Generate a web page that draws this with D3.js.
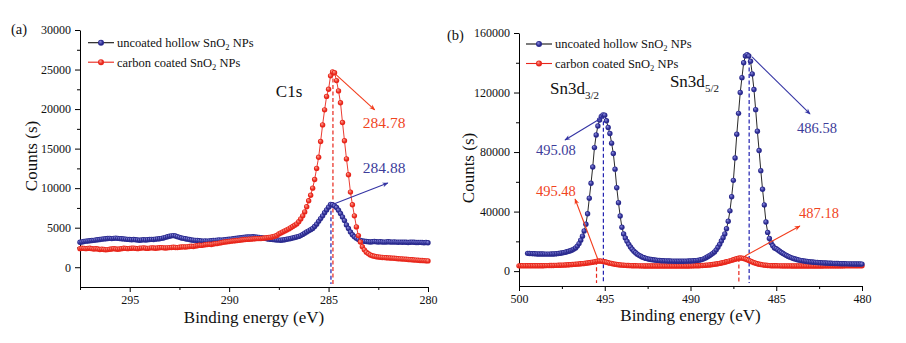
<!DOCTYPE html>
<html>
<head>
<meta charset="utf-8">
<style>
    body { margin: 0; background: #fff; }
    svg { font-family: 'Liberation Serif', 'Times New Roman', serif; }
    .axis .domain { stroke: #000; }
    .axis .tick line { stroke: #000; }
    .axis .tick text { font-size: 12px; fill: #111; font-family: 'Liberation Serif', serif; }
    .title { font-size: 17px; fill: #111; }
    .legend { font-size: 12.5px; fill: #111; }
</style>
</head>
<body>
<svg width="906" height="343"></svg>

<script src="https://d3js.org/d3.v7.min.js"></script>
<script>
// ---------- data: C1s (panel a), energy grid 297.5 -> 280.0 eV, 0.1 eV steps ----------
const c1sStart = 297.5;
const eStep = 0.1;

const c1sUncoated = [
    3150,3200,3250,3300,3320,3350,3380,3400,3450,3480,
    3500,3550,3580,3600,3630,3650,3620,3650,3680,3650,
    3620,3600,3580,3550,3520,3500,3480,3500,3470,3450,
    3420,3450,3480,3450,3480,3500,3520,3500,3550,3580,
    3600,3650,3700,3780,3850,3920,3970,4000,3950,3870,
    3780,3700,3650,3600,3550,3500,3450,3420,3400,3380,
    3350,3320,3300,3330,3300,3330,3350,3380,3400,3420,
    3450,3430,3450,3480,3500,3530,3560,3600,3630,3660,
    3700,3730,3760,3800,3820,3840,3830,3850,3820,3800,
    3780,3750,3700,3650,3600,3550,3520,3500,3480,3450,
    3430,3420,3450,3480,3530,3580,3630,3700,3760,3830,
    3900,4000,4150,4300,4450,4600,4750,4900,5150,5450,
    5800,6150,6500,6900,7250,7600,7950,7900,7750,7550,
    7200,6800,6350,5900,5350,4900,4450,4100,3850,3650,
    3500,3400,3330,3280,3250,3230,3200,3220,3250,3230,
    3200,3220,3200,3180,3200,3220,3200,3180,3200,3180,
    3160,3180,3150,3170,3150,3130,3150,3170,3150,3130,
    3120,3140,3120,3100,3120,3100
];

const c1sCoated = [
    2350,2400,2380,2350,2380,2400,2350,2300,2330,2300,
    2250,2280,2250,2200,2230,2270,2300,2350,2300,2280,
    2300,2350,2400,2380,2350,2380,2400,2420,2380,2350,
    2400,2420,2450,2400,2380,2420,2450,2430,2400,2430,
    2460,2480,2450,2430,2450,2480,2500,2520,2500,2480,
    2520,2550,2570,2550,2580,2620,2650,2630,2680,2720,
    2780,2760,2800,2850,2880,2900,2880,2930,2980,3000,
    3050,3100,3150,3200,3220,3250,3300,3330,3350,3380,
    3400,3450,3480,3500,3520,3540,3550,3580,3600,3620,
    3620,3640,3660,3690,3720,3760,3800,3860,3930,4020,
    4200,4320,4450,4580,4700,4850,5000,5150,5300,5480,
    5750,6100,6500,7000,7650,8400,9100,10000,11100,12500,
    13900,15900,18000,19900,21600,22500,24200,24700,24600,23600,
    22300,20800,18300,16000,13700,11700,9500,7900,6500,5100,
    4000,3200,2600,2200,1900,1700,1550,1450,1380,1330,
    1300,1270,1240,1220,1200,1180,1170,1150,1130,1100,
    1080,1060,1050,1030,1000,980,960,940,920,900,
    880,860,850,830,810,800
];

// ---------- data: Sn3d (panel b) ----------
const snUncoatedStart = 499.5;
const snUncoated = [
    11900,11800,11750,11700,11650,11600,
    11550,11500,11480,11460,11450,11440,11440,11450,11480,11520,
    11600,11700,11850,12000,12200,12450,12700,13000,13300,13700,
    14200,14800,15600,16800,18500,20800,23500,27000,31500,38500,
    49000,59000,70000,83000,91500,97500,101500,104000,105000,104800,
    101000,96500,92500,86000,79000,68500,56000,46000,37000,29500,
    25000,22300,20000,18000,16200,14700,13400,12300,11400,10600,
    9950,9400,8950,8550,8250,8000,7800,7600,7450,7300,
    7200,7100,7000,6950,6900,6850,6800,6750,6720,6700,
    6680,6660,6650,6650,6660,6680,6700,6730,6770,6820,
    6900,6980,7080,7200,7380,7600,7900,8400,9000,9700,
    10400,11100,11900,12900,14300,16000,18000,20200,22500,25000,
    28500,33500,40500,50000,61000,76000,92000,106000,120000,130000,
    140000,144500,145500,144500,141000,132500,122000,108500,94000,81000,
    67500,55000,44500,33000,26000,22000,19000,17000,15500,15000,
    14200,13300,12500,11800,11100,10500,9900,9400,8900,8500,
    8100,7800,7500,7250,7050,6850,6650,6500,6350,6200,
    6080,5970,5870,5780,5700,5620,5550,5480,5420,5360,
    5300,5250,5200,5150,5110,5070,5030,4990,4960,4930,
    4900,4880,4860,4840,4820,4800,4780,4760,4740,4720
];

const snCoatedStart = 500.0;
const snCoated = [
    3550,3580,3560,3540,3570,3600,3580,3560,3590,3610,
    3600,3620,3640,3620,3650,3670,3700,3720,3740,3770,
    3800,3830,3870,3910,3950,4000,4060,4120,4190,4260,
    4340,4420,4510,4600,4700,4800,4910,5030,5160,5300,
    5450,5620,5800,6000,6200,6450,6700,6800,6700,6500,
    6250,5950,5650,5350,5100,4850,4650,4450,4300,4150,
    4050,3950,3870,3800,3740,3690,3650,3610,3580,3550,
    3530,3510,3490,3480,3470,3460,3450,3440,3430,3420,
    3420,3410,3410,3400,3400,3400,3390,3390,3390,3390,
    3390,3390,3400,3400,3410,3420,3430,3440,3450,3470,
    3490,3510,3540,3570,3610,3650,3700,3760,3830,3910,
    4050,4160,4290,4440,4600,4780,4980,5190,5420,5680,
    5950,6250,6570,6900,7250,7600,7950,8300,8600,8800,
    8750,8500,8150,7700,7200,6700,6200,5700,5300,4950,
    4650,4400,4200,4030,3900,3800,3720,3650,3600,3570,
    3560,3540,3530,3520,3510,3500,3500,3490,3490,3480,
    3480,3480,3470,3470,3470,3460,3460,3460,3450,3450,
    3450,3450,3460,3460,3470,3470,3480,3480,3490,3490,
    3500,3500,3500,3510,3510,3510,3520,3520,3520,3520,
    3530,3530,3530,3530,3540,3540,3540,3540,3550,3550,
    3550
];

// ---------- axis ticks ----------
const c1sXTicks = [295, 290, 285, 280];
const c1sXMinor = [297.5, 292.5, 287.5, 282.5];
const c1sYTicks = [0, 5000, 10000, 15000, 20000, 25000, 30000];
const c1sYMinor = [2500, 7500, 12500, 17500, 22500, 27500];

const snXTicks = [500, 495, 490, 485, 480];
const snXMinor = [497.5, 492.5, 487.5, 482.5];
const snYTicks = [0, 40000, 80000, 120000, 160000];
const snYMinor = [20000, 60000, 100000, 140000];

// ---------- peak annotations (energy, counts) ----------
const c1sPeaks = [
    { series: "coated", label: "284.78", e: 284.78, top: 24700, from: [284.64, 24400], to: [282.68, 19900], text: [283.28, 17600] },
    { series: "uncoated", label: "284.88", e: 284.88, top: 7950, from: [284.74, 8000], to: [282.02, 10650], text: [283.28, 11900] }
];
const snPeaks = [
    { series: "uncoated", label: "495.08", e: 495.08, top: 105000, from: [495.10, 103500], to: [497.32, 88100], text: [499.01, 77700] },
    { series: "coated", label: "495.48", e: 495.48, top: 7000, from: [495.39, 7500], to: [496.73, 48500], text: [499.01, 50500] },
    { series: "uncoated", label: "486.58", e: 486.58, top: 145500, from: [486.41, 143900], to: [483.03, 105600], text: [483.79, 92800] },
    { series: "coated", label: "487.18", e: 487.18, top: 8800, from: [486.82, 10200], to: [483.62, 30300], text: [483.67, 35700] }
];

const blue = "#2a2a8e", red = "#e8261b";
const arrowBlue = "#3434a4", arrowRed = "#f23c1c";

function toPoints(start, values) {
    return values.map((v, i) => ({ e: start - i * eStep, v: v }));
}

let svg = d3.select("svg");

// sphere-like marker gradients and arrowheads
let defs = svg.append("defs");
[["gBlue", "#9090e4", blue], ["gRed", "#ffa898", red]].forEach(g => {
    let rg = defs.append("radialGradient").attr("id", g[0])
        .attr("cx", "50%").attr("cy", "50%").attr("r", "55%").attr("fx", "35%").attr("fy", "30%");
    rg.append("stop").attr("offset", "0%").attr("stop-color", g[1]);
    rg.append("stop").attr("offset", "65%").attr("stop-color", g[2]);
});
[["arBlue", arrowBlue], ["arRed", arrowRed]].forEach(a => {
    defs.append("marker").attr("id", a[0])
        .attr("viewBox", "0 0 10 10").attr("refX", 9).attr("refY", 5)
        .attr("markerWidth", 7).attr("markerHeight", 6).attr("markerUnits", "userSpaceOnUse")
        .attr("orient", "auto")
        .append("path").attr("d", "M0,1 L10,5 L0,9 L3,5 Z").attr("fill", a[1]);
});

function drawPanel(cfg) {
    let g = svg.append("g");
    let x = cfg.x, y = cfg.y;

    // axes
    g.append("g").attr("class", "axis")
        .attr("transform", `translate(0,${y.range()[0]})`)
        .call(d3.axisBottom(x).tickValues(cfg.xTicks).tickSize(5).tickSizeOuter(0).tickPadding(3).tickFormat(d3.format("d")));
    g.append("g").attr("class", "axis")
        .attr("transform", `translate(0,${y.range()[0]})`)
        .call(d3.axisBottom(x).tickValues(cfg.xMinor).tickSize(3).tickSizeOuter(0).tickFormat(""))
        .call(s => s.select(".domain").remove());
    g.append("g").attr("class", "axis")
        .attr("transform", `translate(${x.range()[0]},0)`)
        .call(d3.axisLeft(y).tickValues(cfg.yTicks).tickSize(5).tickSizeOuter(0).tickPadding(4).tickFormat(d3.format("d")));
    g.append("g").attr("class", "axis")
        .attr("transform", `translate(${x.range()[0]},0)`)
        .call(d3.axisLeft(y).tickValues(cfg.yMinor).tickSize(3).tickSizeOuter(0).tickFormat(""))
        .call(s => s.select(".domain").remove());

    // axis titles
    g.append("text").attr("class", "title")
        .attr("x", (x.range()[0] + x.range()[1]) / 2).attr("y", cfg.xTitleY)
        .attr("text-anchor", "middle").text("Binding energy (eV)");
    g.append("text").attr("class", "title")
        .attr("transform", `translate(${cfg.yTitleX},${cfg.yTitleY}) rotate(-90)`)
        .attr("text-anchor", "middle").text("Counts (s)");

    // dashed peak markers
    cfg.peaks.forEach(p => {
        g.append("line")
            .attr("x1", x(p.e)).attr("x2", x(p.e))
            .attr("y1", y(p.top)).attr("y2", y.range()[0] - 3)
            .attr("stroke", p.series == "coated" ? red : "#2020b0")
            .attr("stroke-width", 1.2).attr("stroke-dasharray", "4,2.5");
    });

    // series
    let line = d3.line().x(d => x(d.e)).y(d => y(d.v));
    cfg.series.forEach(s => {
        let sg = g.append("g");
        sg.append("path").datum(s.points)
            .attr("fill", "none").attr("stroke", s.lineColor).attr("stroke-width", 0.9)
            .attr("d", line);
        sg.selectAll("circle").data(s.points).join("circle")
            .attr("cx", d => x(d.e)).attr("cy", d => y(d.v)).attr("r", 2.7)
            .attr("fill", `url(#${s.grad})`);
    });

    // arrows and labels
    cfg.peaks.forEach(p => {
        let isRed = p.series == "coated";
        g.append("line")
            .attr("x1", x(p.from[0])).attr("y1", y(p.from[1]))
            .attr("x2", x(p.to[0])).attr("y2", y(p.to[1]))
            .attr("stroke", isRed ? arrowRed : arrowBlue).attr("stroke-width", 1.1)
            .attr("marker-end", `url(#${isRed ? "arRed" : "arBlue"})`);
        g.append("text")
            .attr("x", x(p.text[0])).attr("y", y(p.text[1]))
            .style("font-size", cfg.peakFont + "px")
            .attr("fill", isRed ? "#f0441e" : "#3c3c9a")
            .text(p.label);
    });

    // legend
    let lg = g.append("g").attr("transform", `translate(${cfg.legend[0]},${cfg.legend[1]})`);
    [["uncoated hollow SnO", "gBlue"], ["carbon coated SnO", "gRed"]].forEach((l, i) => {
        let row = lg.append("g").attr("transform", `translate(0,${i * 19.5})`);
        let lineCol = i == 0 ? "#111" : red;
        row.append("line").attr("x1", 0).attr("x2", 26).attr("y1", 0).attr("y2", 0)
            .attr("stroke", lineCol).attr("stroke-width", 1.1);
        row.append("circle").attr("cx", 13).attr("cy", 0).attr("r", 3).attr("fill", `url(#${l[1]})`);
        let t = row.append("text").attr("class", "legend").attr("x", 29).attr("y", 4.3);
        t.append("tspan").text(l[0]);
        t.append("tspan").attr("dy", 3).style("font-size", "8.5px").text("2");
        t.append("tspan").attr("dy", -3).text(" NPs");
    });

    return g;
}

// ---------- panel a ----------
let xA = d3.scaleLinear().domain([297.5, 280]).range([80, 428]);
let yA = d3.scaleLinear().domain([-2500, 30000]).range([287, 30]);
let gA = drawPanel({
    x: xA, y: yA,
    xTicks: c1sXTicks, xMinor: c1sXMinor, yTicks: c1sYTicks, yMinor: c1sYMinor,
    xTitleY: 323, yTitleX: 37, yTitleY: 156,
    peaks: c1sPeaks, peakFont: 15.5,
    legend: [88, 42.7],
    series: [
        { points: toPoints(c1sStart, c1sUncoated), lineColor: "#111", grad: "gBlue" },
        { points: toPoints(c1sStart, c1sCoated), lineColor: red, grad: "gRed" }
    ]
});
gA.append("text").attr("x", xA(287.65)).attr("y", yA(21500)).style("font-size", "17px").attr("fill", "#111").text("C1s");
svg.append("text").attr("x", 11).attr("y", 34).style("font-size", "14.5px").attr("fill", "#111").text("(a)");

// ---------- panel b ----------
let xB = d3.scaleLinear().domain([500, 480]).range([519, 862]);
let yB = d3.scaleLinear().domain([-10000, 160000]).range([286, 33]);
let gB = drawPanel({
    x: xB, y: yB,
    xTicks: snXTicks, xMinor: snXMinor, yTicks: snYTicks, yMinor: snYMinor,
    xTitleY: 321, yTitleX: 474, yTitleY: 168,
    peaks: snPeaks, peakFont: 14.5,
    legend: [526, 44],
    series: [
        { points: toPoints(snCoatedStart, snCoated), lineColor: red, grad: "gRed" },
        { points: toPoints(snUncoatedStart, snUncoated), lineColor: "#111", grad: "gBlue" }
    ]
});
[["Sn3d", "3/2", 498.19, 119000], ["Sn3d", "5/2", 491.2, 123700]].forEach(s => {
    let t = gB.append("text").attr("x", xB(s[2])).attr("y", yB(s[3])).style("font-size", "17px").attr("fill", "#111");
    t.append("tspan").text(s[0]);
    t.append("tspan").attr("dy", 5).style("font-size", "11px").text(s[1]);
});
svg.append("text").attr("x", 447).attr("y", 40).style("font-size", "14.5px").attr("fill", "#111").text("(b)");
</script>
</body>
</html>
